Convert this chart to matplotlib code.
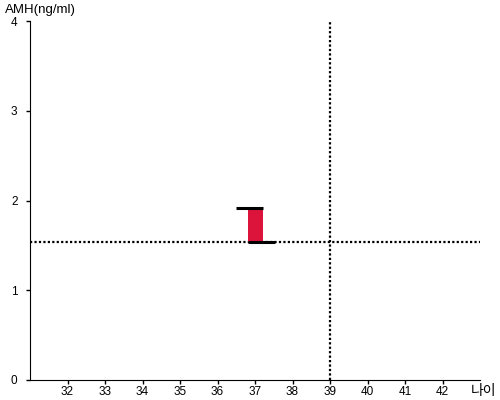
import matplotlib
matplotlib.use("Agg")
import matplotlib.pyplot as plt

plt.rcParams['font.family'] = ['Liberation Sans', 'Noto Sans CJK KR', 'DejaVu Sans']

# data
age = [37]
amh_low = [1.54]
amh_high = [1.92]
ref_age = 39
ref_amh = 1.54
x_ticks = list(range(32, 43))
y_ticks = [0, 1, 2, 3, 4]

fig = plt.figure(figsize=(5, 4), dpi=100)
ax = fig.add_axes([0.06, 0.05, 0.90, 0.8975])

w = 0.4
for a, lo, hi in zip(age, amh_low, amh_high):
    ax.bar(a, hi - lo, bottom=lo, width=w, color="#dc143c", zorder=2)
    # top line shifted left, bottom line shifted right
    ax.plot([a - 0.52, a + 0.2], [hi, hi], color="black", lw=2.2, solid_capstyle="butt", zorder=3)
    ax.plot([a - 0.2, a + 0.52], [lo, lo], color="black", lw=2.2, solid_capstyle="butt", zorder=3)

ax.axhline(ref_amh, color="black", lw=1.6, linestyle=(0, (1, 1)), zorder=1)
ax.axvline(ref_age, color="black", lw=1.6, linestyle=(0, (1, 1)), zorder=1)

ax.set_xlim(31, 43)
ax.set_ylim(0, 4)
ax.set_xticks(x_ticks)
ax.set_yticks(y_ticks)
ax.tick_params(labelsize=8.5, length=3, width=1)
ax.tick_params(axis="x", pad=1.5)
ax.tick_params(axis="y", pad=6)

for s in ["top", "right"]:
    ax.spines[s].set_visible(False)

fig.text(0.01, 0.975, "AMH(ng/ml)", fontsize=9.5, va="center", ha="left")
fig.text(0.992, 0.022, "나이", fontsize=10, va="center", ha="right")

fig.savefig("out.png")
